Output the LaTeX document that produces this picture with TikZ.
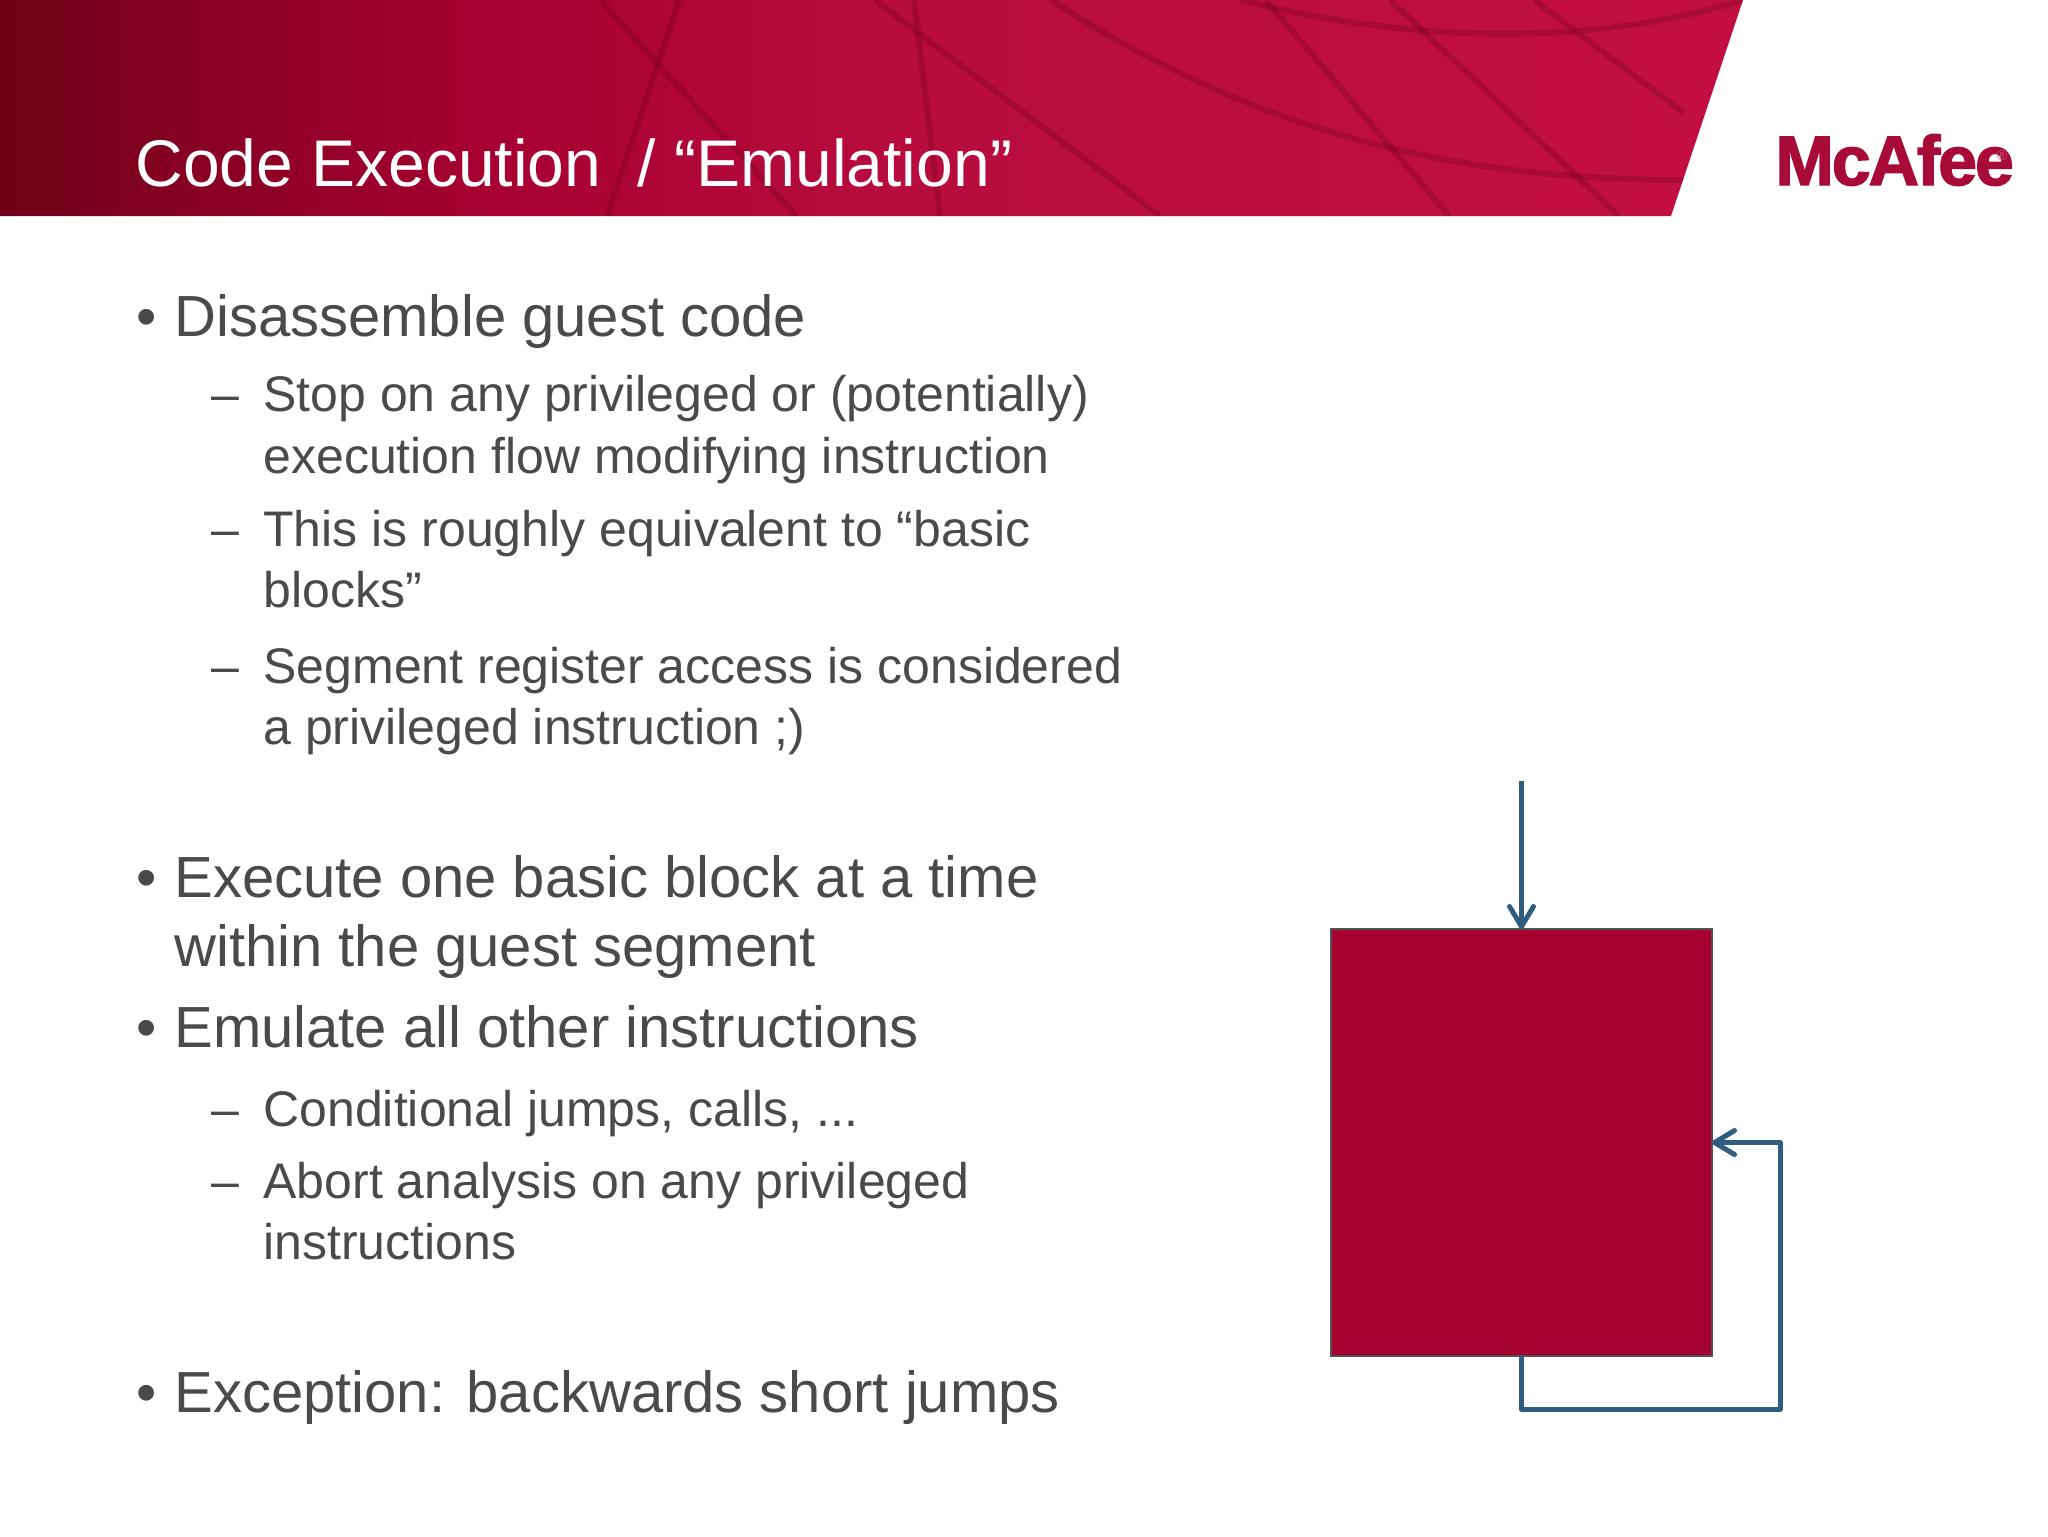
\documentclass[tikz,border=0pt]{standalone}
\usepackage{fontspec}
\setmainfont{Liberation Sans}
\newfontfamily\logofont[FakeBold=2,LetterSpace=-3]{Liberation Sans Bold}
\usetikzlibrary{arrows.meta}
\definecolor{bandA}{HTML}{6E0018}
\definecolor{bandB}{HTML}{80001F}
\definecolor{bandC}{HTML}{A80032}
\definecolor{bandD}{HTML}{B80C3E}
\definecolor{bandE}{HTML}{C20F42}
\definecolor{bodygrey}{HTML}{4A4A4D}
\definecolor{blockred}{HTML}{A50030}
\definecolor{flowblue}{HTML}{2F5D80}
\pgfdeclarehorizontalshading{bandshade}{100bp}{color(0bp)=(bandA); color(25bp)=(bandA); color(28.7bp)=(bandB); color(39.3bp)=(bandC); color(50.8bp)=(bandD); color(75bp)=(bandE); color(100bp)=(bandE)}
\tikzset{
  lvlone/.style={anchor=base west, inner sep=0pt, text=bodygrey, font=\fontsize{29}{29}\selectfont},
  lvltwo/.style={anchor=base west, inner sep=0pt, text=bodygrey, font=\fontsize{25}{25}\selectfont},
  flowline/.style={draw=flowblue, line width=2.5pt, line join=round},
  flowtip/.style={-{Straight Barb[length=10pt,width=12pt,round]}},
  beam/.style={draw=bandA, opacity=0.28, line width=3pt},
}
\begin{document}
\begin{tikzpicture}[x=0.5pt, y=-0.5pt]
\useasboundingbox (0,0) rectangle (2048,1536);
%% header band
  \shade[shading=bandshade] (0,0) -- (1743,0) -- (1671,216) -- (0,216) -- cycle;
  \begin{scope}
    \clip (0,0) -- (1743,0) -- (1671,216) -- (0,216) -- cycle;
    \draw[beam] (600,0) -- (796,216);
    \draw[beam] (679,0) -- (607,216);
    \draw[beam] (875,0) -- (1160,216);
    \draw[beam] (914,0) -- (940,216);
    \draw[beam] (1266,0) -- (1449,216);
    \draw[beam] (1390,0) -- (1619,216);
    \draw[beam] (1534,0) -- (1684,113);
    \draw[beam] (1240,0) .. controls (1400,40) and (1580,50) .. (1743,0);
    \draw[beam] (1051,0) .. controls (1250,130) and (1450,180) .. (1684,180);
  \end{scope}
  \node[anchor=base west, inner sep=0pt, text=white, font=\fontsize{33}{33}\selectfont] (title) at (135,186) {Code Execution\ \ / “Emulation”};
  \node[anchor=base west, inner sep=0pt, text=bandD!92!black, font=\logofont\fontsize{35}{35}\selectfont] (logo) at (1775,185) {McAfee};
  \node[anchor=center, inner sep=0pt, text=bandD!70!white, font=\fontsize{7}{7}\selectfont] (regmark) at (2002,156) {®};
%% bullet text
  \node[lvlone] (dotA) at (136,336) {•};
  \node[lvlone] (textA) at (174,336) {Disassemble guest code};
  \node[lvltwo] (dashA) at (211,411) {–};
  \node[lvltwo] (textB) at (263,411) {Stop on any privileged or (potentially)};
  \node[lvltwo] (textC) at (263,473) {execution flow modifying instruction};
  \node[lvltwo] (dashB) at (211,546) {–};
  \node[lvltwo] (textD) at (263,546) {This is roughly equivalent to “basic};
  \node[lvltwo] (textE) at (263,607) {blocks”};
  \node[lvltwo] (dashC) at (211,683) {–};
  \node[lvltwo] (textF) at (263,683) {Segment register access is considered};
  \node[lvltwo] (textG) at (263,744) {a privileged instruction ;)};
  \node[lvlone] (dotB) at (136,897) {•};
  \node[lvlone] (textH) at (174,897) {Execute one basic block at a time};
  \node[lvlone] (textI) at (174,966) {within the guest segment};
  \node[lvlone] (dotC) at (136,1047) {•};
  \node[lvlone] (textJ) at (174,1047) {Emulate all other instructions};
  \node[lvltwo] (dashD) at (211,1126) {–};
  \node[lvltwo] (textK) at (263,1126) {Conditional jumps, calls, ...};
  \node[lvltwo] (dashE) at (211,1198) {–};
  \node[lvltwo] (textL) at (263,1198) {Abort analysis on any privileged};
  \node[lvltwo] (textM) at (263,1259) {instructions};
  \node[lvlone] (dotD) at (136,1412) {•};
  \node[lvlone] (textN) at (174,1412) {Exception: backwards short jumps};
%% block and flow
  \node[draw=black!68, fill=blockred, line width=1pt, minimum width=190.5pt, minimum height=213.5pt, inner sep=0pt, outer sep=0pt] (block) at (1521.5,1142.5) {};
  \coordinate (entry) at (1521.5,781);
  \coordinate (loopA) at (1521.5,1409);
  \coordinate (loopB) at (1780,1409);
  \coordinate (loopC) at (1780,1142.5);
  \draw[flowline, flowtip] (entry) -- (block.north);
  \draw[flowline, flowtip] (block.south) -- (loopA) -- (loopB) -- (loopC) -- (block.east);
\end{tikzpicture}
\end{document}
